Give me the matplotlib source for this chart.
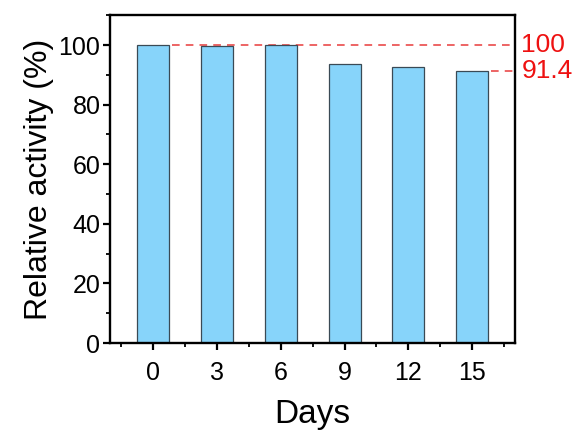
import numpy as np
import matplotlib
matplotlib.use('Agg')
import matplotlib.pyplot as plt
from matplotlib.ticker import MultipleLocator

plt.rcParams['font.family'] = ['Liberation Sans', 'DejaVu Sans']

# data
days = ['0', '3', '6', '9', '12', '15']
activity = [100, 99.7, 100, 93.5, 92.8, 91.4]
ref_labels = ['100', '91.4']
ref_values = [100, 91.4]

fig = plt.figure(figsize=(5.8, 4.37), dpi=100)
ax = fig.add_axes([0.19, 0.215, 0.698, 0.75])

x = np.arange(len(days))
ax.bar(x, activity, width=0.5, color='#87D4FA', edgecolor='#3a4a55', linewidth=0.9, zorder=2)

# dashed reference lines from the first / last bar to the right spine
xmax = 5.67
ax.plot([x[0] + 0.3, xmax], [ref_values[0]] * 2, ls=(0, (5, 4)), color='#e83a3a', lw=1.1, zorder=1)
ax.plot([x[-1] + 0.3, xmax], [ref_values[1]] * 2, ls=(0, (5, 4)), color='#e83a3a', lw=1.1, zorder=1)
for lab, v in zip(ref_labels, ref_values):
    ax.text(xmax + 0.1, v, lab, color='#ee1111', fontsize=19, va='center', ha='left',
            transform=ax.transData, clip_on=False)

ax.set_xlim(-0.67, xmax)
ax.set_ylim(0, 110)
ax.set_xticks(x)
ax.set_xticklabels(days)
ax.set_xticks(np.arange(-0.5, 6, 1), minor=True)
ax.yaxis.set_major_locator(MultipleLocator(20))
ax.yaxis.set_minor_locator(MultipleLocator(10))

ax.tick_params(axis='both', which='major', direction='out', length=5, width=1.6, labelsize=18, pad=2)
ax.tick_params(axis='both', which='minor', direction='out', length=3, width=1.3)
ax.tick_params(axis='x', which='major', pad=8)
ax.tick_params(right=False, top=False)
for s in ax.spines.values():
    s.set_linewidth(1.7)

ax.set_xlabel('Days', fontsize=24, labelpad=10)
ax.set_ylabel('Relative activity (%)', fontsize=23, labelpad=3)

fig.savefig('out.png', dpi=100)
